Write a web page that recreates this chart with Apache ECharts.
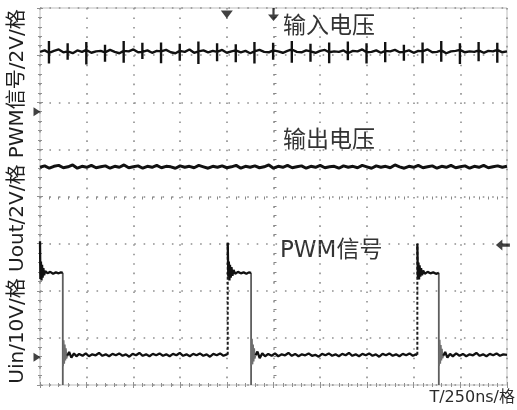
<!DOCTYPE html>
<html>
<head>
<meta charset="utf-8">
<script src="https://cdn.jsdelivr.net/npm/echarts@6/dist/echarts.min.js"></script>
<style>html,body{margin:0;padding:0;background:#fff}#c{width:517px;height:410px}</style>
</head>
<body>
<div id="c"></div>
<script>
// ---- data (x: time in ns, y: screen divisions, 0 = bottom) ----
const SAMPLE_NS = 25;
const xTicks = [0, 250, 500, 750, 1000, 1250, 1500, 1750, 2000, 2250, 2500];
const channelLabels = ['输入电压', '输出电压', 'PWM信号'];
const yAxisTitle = 'Uin/10V/格 Uout/2V/格 PWM信号/2V/格';
const xAxisTitle = 'T/250ns/格';

// Input voltage: baseline samples every 25 ns
const uinBase = [
 7.07,7.10,7.05,7.09,7.12,7.06,7.08,7.04,7.10,7.07,
 7.11,7.05,7.08,7.09,7.06,7.11,7.07,7.04,7.09,7.08,
 7.12,7.06,7.07,7.10,7.05,7.09,7.08,7.11,7.06,7.04,
 7.09,7.07,7.12,7.05,7.08,7.10,7.06,7.09,7.07,7.11,
 7.05,7.08,7.10,7.06,7.09,7.04,7.08,7.11,7.07,7.06,
 7.10,7.08,7.05,7.09,7.12,7.07,7.06,7.10,7.08,7.05,
 7.09,7.11,7.06,7.08,7.07,7.10,7.04,7.09,7.08,7.12,
 7.06,7.07,7.10,7.05,7.09,7.08,7.11,7.06,7.07,7.10,
 7.05,7.09,7.08,7.12,7.06,7.07,7.10,7.04,7.08,7.09,
 7.11,7.06,7.08,7.07,7.10,7.05,7.09,7.08,7.11,7.06,
 7.08];
// Input voltage switching spikes
const uinSpikeT = [48,148,248,348,448,548,648,748,848,948,1048,1148,1248,1348,1448,1548,1648,1748,1848,1948,2048,2148,2248,2348,2448];
const uinSpikeUp = [7.30,7.25,7.28,7.22,7.30,7.26,7.27,7.24,7.29,7.25,7.23,7.28,7.26,7.30,7.24,7.27,7.29,7.25,7.28,7.22,7.27,7.30,7.25,7.28,7.26];
const uinSpikeDown = [6.82,6.90,6.80,6.86,6.84,6.92,6.83,6.88,6.81,6.87,6.85,6.82,6.90,6.84,6.86,6.83,6.89,6.82,6.85,6.88,6.83,6.86,6.81,6.87,6.84];

// Output voltage samples every 25 ns
const uoutV = [
 4.62,4.65,4.60,4.64,4.66,4.61,4.63,4.67,4.60,4.64,
 4.62,4.66,4.61,4.63,4.65,4.60,4.64,4.62,4.67,4.61,
 4.63,4.65,4.60,4.64,4.62,4.66,4.61,4.64,4.63,4.60,
 4.65,4.62,4.64,4.61,4.66,4.63,4.60,4.64,4.62,4.65,
 4.61,4.63,4.66,4.60,4.64,4.62,4.65,4.61,4.63,4.67,
 4.60,4.64,4.62,4.66,4.61,4.63,4.65,4.60,4.64,4.62,
 4.66,4.61,4.63,4.64,4.60,4.65,4.62,4.64,4.61,4.66,
 4.63,4.60,4.65,4.62,4.64,4.61,4.67,4.63,4.60,4.64,
 4.62,4.66,4.61,4.63,4.65,4.60,4.64,4.62,4.66,4.61,
 4.63,4.65,4.60,4.64,4.62,4.66,4.61,4.63,4.65,4.62,
 4.64];

// PWM signal: black (settled) segments
const pwmHigh1 = [[0,3.05],[2,2.25],[5,2.62],[8,2.22],[11,2.55],[14,2.28],[18,2.48],[22,2.33],[28,2.42],[40,2.37],[55,2.40],[70,2.36],[85,2.39],[100,2.37],[112,2.39],[122,2.38]];
const pwmLow1 = [[146,0.62],[156,0.70],[168,0.58],[182,0.67],[195,0.61],[210,0.66],[228,0.62],[245,0.67],[262,0.61],[280,0.65],[298,0.63],[316,0.68],[334,0.62],[352,0.65],[370,0.61],[388,0.66],[406,0.63],[424,0.67],[442,0.62],[460,0.65],[478,0.60],[496,0.66],[514,0.63],[532,0.68],[550,0.62],[568,0.65],[586,0.61],[604,0.66],[622,0.63],[640,0.67],[658,0.62],[676,0.65],[694,0.61],[712,0.66],[730,0.63],[748,0.68],[766,0.62],[784,0.65],[802,0.61],[820,0.66],[838,0.63],[856,0.67],[874,0.62],[892,0.65],[910,0.60],[928,0.66],[946,0.63],[964,0.67],[982,0.62],[1000,0.65],[1005,0.64]];
const pwmHigh2 = [[1005,3.02],[1008,2.30],[1011,2.62],[1014,2.22],[1017,2.55],[1021,2.28],[1025,2.50],[1030,2.32],[1036,2.44],[1045,2.36],[1060,2.40],[1075,2.37],[1090,2.39],[1105,2.36],[1118,2.39],[1130,2.38]];
const pwmLow2 = [[1154,0.63],[1164,0.71],[1176,0.57],[1190,0.67],[1205,0.61],[1222,0.66],[1240,0.62],[1258,0.67],[1276,0.61],[1294,0.65],[1312,0.63],[1330,0.68],[1348,0.62],[1366,0.66],[1384,0.61],[1402,0.65],[1420,0.63],[1438,0.67],[1456,0.62],[1474,0.64],[1492,0.60],[1510,0.66],[1528,0.63],[1546,0.67],[1564,0.62],[1582,0.65],[1600,0.61],[1618,0.66],[1636,0.63],[1654,0.68],[1672,0.62],[1690,0.65],[1708,0.61],[1726,0.66],[1744,0.63],[1762,0.67],[1780,0.62],[1798,0.65],[1816,0.60],[1834,0.66],[1852,0.63],[1870,0.67],[1888,0.62],[1906,0.65],[1924,0.61],[1942,0.66],[1960,0.63],[1978,0.67],[1996,0.62],[2012,0.65],[2020,0.64]];
const pwmHigh3 = [[2020,3.00],[2023,2.28],[2026,2.60],[2029,2.24],[2032,2.54],[2036,2.30],[2040,2.48],[2045,2.33],[2051,2.43],[2060,2.36],[2075,2.40],[2090,2.37],[2105,2.39],[2120,2.36],[2135,2.38]];
const pwmLow3 = [[2159,0.62],[2169,0.70],[2181,0.58],[2195,0.66],[2210,0.61],[2228,0.67],[2246,0.62],[2264,0.66],[2282,0.61],[2300,0.65],[2318,0.63],[2336,0.68],[2354,0.62],[2372,0.65],[2390,0.61],[2408,0.66],[2426,0.63],[2444,0.67],[2462,0.62],[2480,0.65],[2500,0.64]];
// PWM edges
const pwmRiseT = [1005, 2020];
const pwmRiseFrom = [0.64, 0.64];
const pwmRiseTo = [3.02, 3.00];
const pwmFallT = [122, 1130, 2135];
const pwmFallFrom = [2.38, 2.38, 2.38];
const pwmFallTo = [0.0, 0.0, 0.0];
// ringing just after each falling edge
const pwmRing1 = [[124,0.40],[127,0.95],[130,0.45],[133,0.86],[136,0.52],[139,0.78],[142,0.56],[146,0.62]];
const pwmRing2 = [[1132,0.42],[1135,0.98],[1138,0.44],[1141,0.86],[1144,0.50],[1147,0.78],[1150,0.56],[1154,0.63]];
const pwmRing3 = [[2137,0.41],[2140,0.96],[2143,0.45],[2146,0.85],[2149,0.52],[2152,0.77],[2155,0.57],[2159,0.62]];

// Screen markers
const triggerPos = [[1000, 7.86]];
const centerMark = [[1250, 7.86]];
const trigLevel = [[2478, 2.97]];
const groundMarks = [[0, 5.80], [0, 0.59]];

// ---- build series data ----
const uinPts = uinBase.map((v, i) => [i * SAMPLE_NS, v]);
uinSpikeT.forEach((t, k) => {
  const b = uinBase[Math.round(t / SAMPLE_NS)];
  uinPts.push([t, b], [t, uinSpikeUp[k]], [t, uinSpikeDown[k]], [t, b]);
});
uinPts.sort((a, b) => a[0] - b[0]);
const uoutPts = uoutV.map((v, i) => [i * SAMPLE_NS, v]);
const joinSegs = segs => segs.reduce((acc, s, i) => acc.concat(i ? [null] : [], s), []);
const pwmBlack = joinSegs([pwmHigh1, pwmLow1, pwmHigh2, pwmLow2, pwmHigh3, pwmLow3]);
const pwmRise = joinSegs(pwmRiseT.map((t, i) => [[t, pwmRiseFrom[i]], [t, pwmRiseTo[i]]]));
const pwmFall = joinSegs(pwmFallT.map((t, i) => [[t, pwmFallFrom[i]], [t, pwmFallTo[i]]]));
const pwmRing = joinSegs([pwmRing1, pwmRing2, pwmRing3]);

const FONT = 'DejaVu Sans, Noto Sans CJK SC, sans-serif';
const gridGrey = '#8f8f8f';
const tickCommon = {axisLabel: {show: false}, axisLine: {show: false}};
const mkX = (extra) => Object.assign({type: 'value', min: 0, max: 2500, interval: 250}, tickCommon, extra);
const mkY = (extra) => Object.assign({type: 'value', min: 0, max: 8, interval: 1}, tickCommon, extra);
const borderTicks = {axisTick: {show: true, inside: true, length: 3, lineStyle: {color: gridGrey}},
  minorTick: {show: true, splitNumber: 5, length: 2, lineStyle: {color: gridGrey}}, splitLine: {show: false}};
const centerTicks = {axisTick: {show: false}, minorTick: {show: true, splitNumber: 5, length: 3, lineStyle: {color: '#888'}}, splitLine: {show: false}};

const chart = echarts.init(document.getElementById('c'), null, {renderer: 'canvas'});
const lineBase = {type: 'line', showSymbol: false, symbol: 'none', animation: false, connectNulls: false, xAxisIndex: 0, yAxisIndex: 0, z: 5};
chart.setOption({
  backgroundColor: '#fff',
  animation: false,
  grid: {left: 34, right: 10, top: 8, bottom: 25, show: true, borderColor: '#bdbdbd', borderWidth: 1, backgroundColor: '#fff'},
  xAxis: [
    mkX({position: 'bottom', axisTick: {show: false}, minorTick: {show: false},
      splitLine: {show: true, lineStyle: {color: gridGrey, width: 1.6, type: [1.6, 7.85]}}}),
    mkX(Object.assign({position: 'top'}, borderTicks)),
    mkX(Object.assign({position: 'bottom'}, borderTicks)),
    mkX(Object.assign({position: 'bottom', offset: -188.5}, centerTicks))
  ],
  yAxis: [
    mkY({position: 'left', axisTick: {show: false}, minorTick: {show: false},
      splitLine: {show: true, lineStyle: {color: gridGrey, width: 1.6, type: [1.6, 7.82]}},
      name: yAxisTitle, nameLocation: 'middle', nameRotate: 90, nameGap: 12,
      nameTextStyle: {fontFamily: FONT, fontSize: 20, color: '#1e1e1e'}}),
    mkY(Object.assign({position: 'right'}, borderTicks)),
    mkY(Object.assign({position: 'left'}, borderTicks)),
    mkY(Object.assign({position: 'left', offset: -236.5}, centerTicks))
  ],
  graphic: [
    {type: 'text', left: 283, top: 16, style: {text: channelLabels[0], font: '23px ' + FONT, fill: '#333'}},
    {type: 'text', left: 283, top: 130, style: {text: channelLabels[1], font: '23px ' + FONT, fill: '#333'}},
    {type: 'text', left: 280, top: 240, style: {text: channelLabels[2], font: '23px ' + FONT, fill: '#333'}},
    {type: 'text', right: 2, top: 390, style: {text: xAxisTitle, font: '16px ' + FONT, fill: '#2a2a2a'}}
  ],
  series: [
    Object.assign({}, lineBase, {name: 'Uin', data: uinPts, lineStyle: {color: '#111', width: 2.4}}),
    Object.assign({}, lineBase, {name: 'Uout', data: uoutPts, lineStyle: {color: '#111', width: 3}}),
    Object.assign({}, lineBase, {name: 'PWM fall', data: pwmFall, lineStyle: {color: '#5e5e5e', width: 1.8}, z: 4}),
    Object.assign({}, lineBase, {name: 'PWM ring', data: pwmRing, lineStyle: {color: '#6e6e6e', width: 1.6}, z: 4}),
    Object.assign({}, lineBase, {name: 'PWM rise', data: pwmRise, lineStyle: {color: '#1e1e1e', width: 2, type: [3, 2]}}),
    Object.assign({}, lineBase, {name: 'PWM', data: pwmBlack, lineStyle: {color: '#111', width: 2.3}}),
    {type: 'scatter', data: triggerPos, symbol: 'triangle', symbolRotate: 180, symbolSize: [12, 8], itemStyle: {color: '#111'}, clip: false, animation: false, z: 6},
    {type: 'scatter', data: centerMark, symbol: 'path://M4,0 L6,0 L6,6 L10,6 L5,12 L0,6 L4,6 Z', symbolSize: [11, 13], itemStyle: {color: '#111'}, clip: false, animation: false, z: 6},
    {type: 'scatter', data: trigLevel, symbol: 'path://M0,5 L6,0 L6,3.5 L13,3.5 L13,6.5 L6,6.5 L6,10 Z', symbolSize: [14, 11], itemStyle: {color: '#111'}, clip: false, animation: false, z: 6},
    {type: 'scatter', data: groundMarks, symbol: 'triangle', symbolRotate: -90, symbolSize: [9, 7], symbolOffset: [-3, 0], itemStyle: {color: '#111'}, clip: false, animation: false, z: 6}
  ]
});
</script>
</body>
</html>
